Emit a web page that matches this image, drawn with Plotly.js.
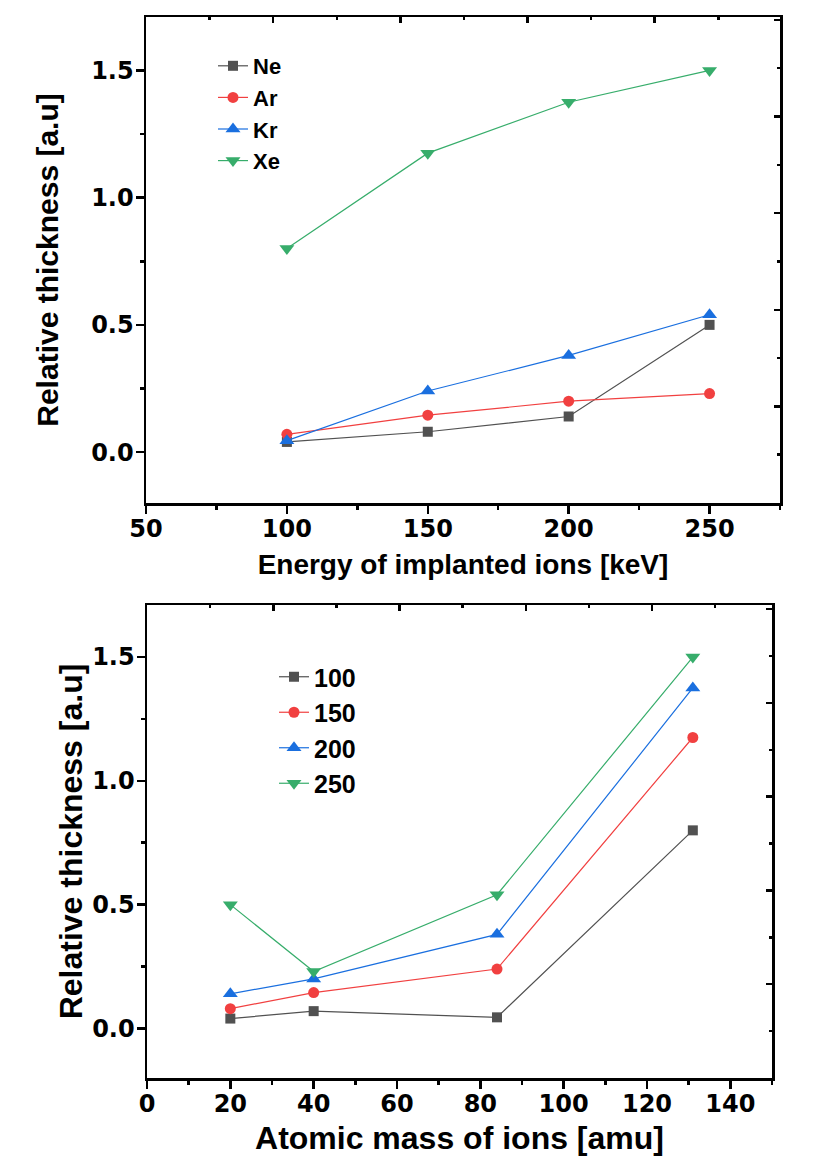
<!DOCTYPE html>
<html>
<head>
<meta charset="utf-8">
<script src="https://cdn.plot.ly/plotly-3.0.1.min.js"></script>
<style>
html,body{margin:0;padding:0;background:#fff;}
#chart{width:813px;height:1156px;}
</style>
</head>
<body>
<div id="chart"></div>
<script>
// ---- data ----
const energies = [100, 150, 200, 250];          // keV
const ions = ['Ne', 'Ar', 'Kr', 'Xe'];
const atomicMass = [20, 40, 84, 131];           // amu
const neValues = [0.04, 0.08, 0.14, 0.50];
const arValues = [0.07, 0.145, 0.20, 0.23];
const krValues = [0.045, 0.24, 0.38, 0.54];
const xeValues = [0.80, 1.175, 1.375, 1.50];

const colors = ['#515151', '#F14040', '#1A6FDF', '#37AD6B'];
const symbols = ['square', 'circle', 'triangle-up', 'triangle-down'];
const sizes = [10, 11, 13, 13];

const byIon = [neValues, arValues, krValues, xeValues];
const traces = [];

// top panel: thickness vs energy, one line per ion
ions.forEach((ion, i) => {
  traces.push({
    x: energies, y: byIon[i], name: ion, type: 'scatter', mode: 'lines+markers',
    xaxis: 'x', yaxis: 'y', legend: 'legend',
    line: {color: colors[i], width: 1.2},
    marker: {color: colors[i], symbol: symbols[i], size: sizes[i]}
  });
});

// bottom panel: thickness vs atomic mass, one line per energy
energies.forEach((e, j) => {
  traces.push({
    x: atomicMass, y: byIon.map(arr => arr[j]), name: String(e), type: 'scatter', mode: 'lines+markers',
    xaxis: 'x2', yaxis: 'y2', legend: 'legend2',
    line: {color: colors[j], width: 1.2},
    marker: {color: colors[j], symbol: symbols[j], size: sizes[j]}
  });
});

// empty helper traces so the mirrored frame axes (top / right) get drawn
[['x3', 'y3'], ['x4', 'y4']].forEach(([xa, ya]) => {
  traces.push({x: [null], y: [null], xaxis: xa, yaxis: ya, type: 'scatter', mode: 'markers',
    showlegend: false, hoverinfo: 'skip'});
});

const W = 813, H = 1156;
const tickFont = {family: 'DejaVu Sans', size: 24, color: '#000', weight: 'bold'};

function mainX(dom, anchor, range, dtick, minor, title, tsize, standoff) {
  return {
    domain: dom, anchor: anchor, range: range, dtick: dtick, tick0: 0,
    showgrid: false, zeroline: false, showline: true, linecolor: '#000', linewidth: 2.5,
    ticks: 'outside', ticklen: 8, tickwidth: 2.5, tickcolor: '#000',
    minor: {dtick: minor, ticks: 'outside', ticklen: 4, tickwidth: 2.5, tickcolor: '#000', showgrid: false},
    tickfont: tickFont, ticklabelstandoff: -5,
    title: {text: title, standoff: standoff, font: {family: 'Liberation Sans', size: tsize, color: '#000', weight: 'bold'}},
    fixedrange: true
  };
}
function mainY(dom, anchor, range, title, tsize, standoff) {
  return {
    domain: dom, anchor: anchor, range: range, dtick: 0.5, tick0: 0, tickformat: '.1f',
    showgrid: false, zeroline: false, showline: true, linecolor: '#000', linewidth: 2.5,
    ticks: 'outside', ticklen: 8, tickwidth: 2.5, tickcolor: '#000',
    minor: {dtick: 0.25, ticks: 'outside', ticklen: 4, tickwidth: 2.5, tickcolor: '#000', showgrid: false},
    tickfont: tickFont, ticklabelstandoff: -3,
    title: {text: title, standoff: standoff, font: {family: 'Liberation Sans', size: tsize, color: '#000', weight: 'bold'}},
    fixedrange: true
  };
}
function frameAxis(over, anchor, side, span) {
  return {
    overlaying: over, anchor: anchor, side: side, range: [0, span], dtick: 2, tick0: 0,
    showgrid: false, zeroline: false, showline: true, linecolor: '#000', linewidth: 2.5,
    ticks: 'inside', ticklen: 6, tickwidth: 2.5, tickcolor: '#000',
    minor: {dtick: 1, ticks: 'inside', ticklen: 3, tickwidth: 2.5, tickcolor: '#000', showgrid: false},
    showticklabels: false, fixedrange: true
  };
}

const topX = [146 / W, 780 / W], topY = [1 - 503 / H, 1 - 17 / H];
const botX = [147 / W, 772 / W], botY = [1 - 1078 / H, 1 - 605 / H];

const layout = {
  width: W, height: H,
  margin: {l: 0, r: 0, t: 0, b: 0},
  paper_bgcolor: '#fff', plot_bgcolor: '#fff',
  font: {family: 'Liberation Sans', color: '#000'},
  xaxis: mainX(topX, 'y', [50, 275], 50, 25, 'Energy of implanted ions [keV]', 28, 12),
  yaxis: mainY(topY, 'x', [-0.2, 1.71], 'Relative thickness [a.u]', 30, 24),
  xaxis2: mainX(botX, 'y2', [0, 150], 20, 10, 'Atomic mass of ions [amu]', 32, 12),
  yaxis2: mainY(botY, 'x2', [-0.2, 1.71], 'Relative thickness [a.u]', 32, 0),
  xaxis3: frameAxis('x', 'y3', 'top', 9.97),
  yaxis3: frameAxis('y', 'x3', 'right', 10.06),
  xaxis4: frameAxis('x2', 'y4', 'top', 9.9),
  yaxis4: frameAxis('y2', 'x4', 'right', 10.09),
  legend: {
    x: 213 / W, y: 1 - 45 / H, xanchor: 'left', yanchor: 'top',
    bgcolor: 'rgba(0,0,0,0)', borderwidth: 0,
    font: {family: 'Liberation Sans', size: 22, color: '#000', weight: 'bold'}
  },
  legend2: {
    x: 274 / W, y: 1 - 654 / H, xanchor: 'left', yanchor: 'top',
    bgcolor: 'rgba(0,0,0,0)', borderwidth: 0,
    font: {family: 'Liberation Sans', size: 25, color: '#000', weight: 'bold'}
  },
  showlegend: true
};

Plotly.newPlot('chart', traces, layout, {displayModeBar: false, staticPlot: true});
</script>
</body>
</html>
